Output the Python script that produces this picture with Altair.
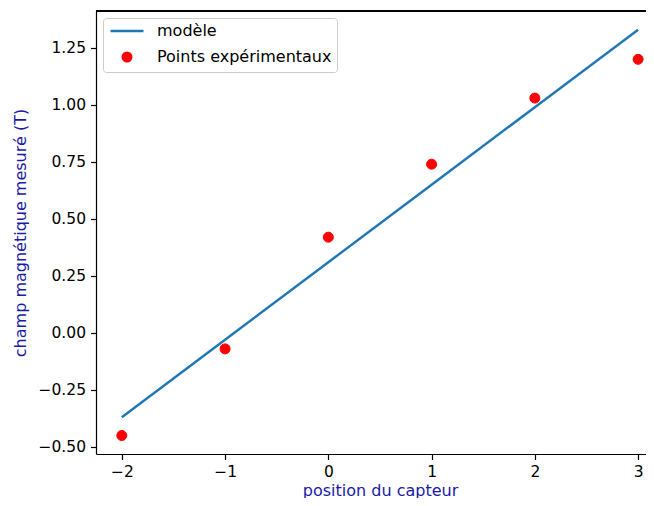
import altair as alt
import pandas as pd

# --- data ---
positions = [-2, -1, 0, 1, 2, 3]
champ_mesure = [-0.45, -0.07, 0.42, 0.74, 1.03, 1.20]
champ_modele = [-0.37, -0.03, 0.31, 0.65, 0.99, 1.33]
series = ["modèle", "Points expérimentaux"]
x_ticks = [-2, -1, 0, 1, 2, 3]
y_ticks = [-0.5, -0.25, 0.0, 0.25, 0.5, 0.75, 1.0, 1.25]
titre = "Évolution du champ magnétique entre les deux bobines"
x_titre = "position du capteur"
y_titre = "champ magnétique mesuré (T)"

df_model = pd.DataFrame({"x": positions, "y": champ_modele, "serie": series[0]})
df_pts = pd.DataFrame({"x": positions, "y": champ_mesure, "serie": series[1]})

W, H = 550, 443
PX_PER_UNIT = 103.26
BLUE_TXT = "#1a1aa6"
FONT = "DejaVu Sans"

x_scale = alt.Scale(domain=[-2.25, -2.25 + W / PX_PER_UNIT], nice=False, zero=False)
y_scale = alt.Scale(domain=[-0.531, 1.412], nice=False, zero=False)

x_axis = alt.Axis(
    values=x_ticks, format="d", title=x_titre, grid=False,
    titleX=284, titlePadding=2,
)
y_axis = alt.Axis(
    values=y_ticks, format=".2f", title=y_titre, grid=False, titlePadding=10,
)

color_scale = alt.Scale(domain=series, range=["#1f77b4", "red"])
shape_scale = alt.Scale(domain=series, range=["M-3.84,0H3.84", "circle"])

legend = alt.Legend(
    title=None, orient="top-left", offset=7, padding=5,
    fillColor="rgba(255,255,255,0.8)", strokeColor="#cccccc", cornerRadius=3,
    labelFont=FONT, labelFontSize=16, labelColor="black", labelLimit=400,
    symbolSize=74, symbolStrokeWidth=2.4, symbolFillColor="red",
    symbolOffset=11, labelOffset=22, rowPadding=8,
)

line = alt.Chart(df_model).mark_line(strokeWidth=2.4).encode(
    x=alt.X("x:Q", scale=x_scale, axis=x_axis),
    y=alt.Y("y:Q", scale=y_scale, axis=y_axis),
    color=alt.Color("serie:N", scale=color_scale, legend=legend),
)

pts = alt.Chart(df_pts).mark_point(
    filled=False, fill="red", fillOpacity=1, opacity=1, size=100, strokeWidth=1
).encode(
    x=alt.X("x:Q", scale=x_scale, axis=x_axis),
    y=alt.Y("y:Q", scale=y_scale, axis=y_axis),
    color=alt.Color("serie:N", scale=color_scale, legend=legend),
    shape=alt.Shape("serie:N", scale=shape_scale, legend=legend),
)

top_spine = alt.Chart(df_model).mark_rule(color="black", strokeWidth=1.2).encode(
    x=alt.value(0), x2=alt.value(W), y=alt.value(0)
)

chart = alt.layer(line, pts, top_spine).properties(
    width=W, height=H,
    background="white",
    title=alt.TitleParams(titre, color=BLUE_TXT, font=FONT, fontSize=16,
                          fontWeight="normal", offset=12),
    autosize=alt.AutoSizeParams(type="none"),
    padding={"left": 88, "top": 3, "right": 0, "bottom": 44},
).configure_view(stroke=None).configure_axis(
    domainColor="black", domainWidth=1.2, tickColor="black", tickWidth=1.2,
    tickSize=5.5, labelFont=FONT, labelFontSize=15.5, labelColor="black",
    labelPadding=5, titleFont=FONT, titleFontSize=16, titleFontWeight="normal",
    titleColor=BLUE_TXT,
)

chart.save("out.html", embed_options={"renderer": "svg", "actions": False})
